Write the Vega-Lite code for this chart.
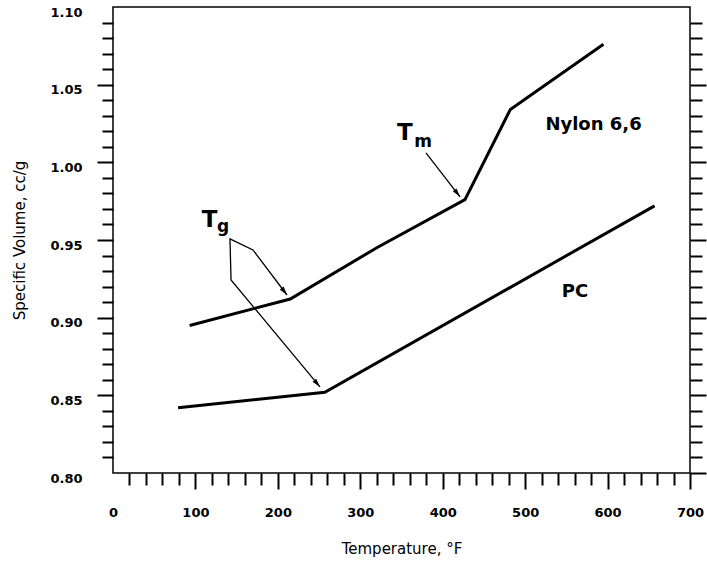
{
  "$schema": "https://vega.github.io/schema/vega-lite/v6.json",
  "width": 577,
  "height": 466,
  "autosize": {"type": "none"},
  "padding": {"left": 113, "top": 7, "right": 17, "bottom": 90},
  "config": {
    "font": "DejaVu Sans",
    "view": {"stroke": "#000000", "strokeWidth": 1.5},
    "axis": {"domain": false, "grid": false, "tickColor": "#000000", "labelColor": "#000000", "titleColor": "#000000"}
  },
  "datasets": {
    "curves": [
      {"series": "Nylon 6,6", "x": 93, "y": 0.895},
      {"series": "Nylon 6,6", "x": 215, "y": 0.912},
      {"series": "Nylon 6,6", "x": 320, "y": 0.945},
      {"series": "Nylon 6,6", "x": 427, "y": 0.976},
      {"series": "Nylon 6,6", "x": 482, "y": 1.034},
      {"series": "Nylon 6,6", "x": 595, "y": 1.076},
      {"series": "PC", "x": 79, "y": 0.842},
      {"series": "PC", "x": 257, "y": 0.852},
      {"series": "PC", "x": 657, "y": 0.972}
    ],
    "arrows": [
      {"id": "Tg", "ord": 1, "x": 211.1, "y": 0.9146},
      {"id": "Tg", "ord": 2, "x": 169.8, "y": 0.9436},
      {"id": "Tg", "ord": 3, "x": 141.9, "y": 0.9507},
      {"id": "Tg", "ord": 4, "x": 143.2, "y": 0.9243},
      {"id": "Tg", "ord": 5, "x": 251.1, "y": 0.8554},
      {"id": "Tm", "ord": 1, "x": 379.7, "y": 1.0061},
      {"id": "Tm", "ord": 2, "x": 421.0, "y": 0.9778}
    ],
    "tips": [
      {"name": "Tg1", "x": 211.1, "y": 0.9146},
      {"name": "Tg2", "x": 251.1, "y": 0.8554},
      {"name": "Tm", "x": 421.0, "y": 0.9778}
    ],
    "names": [
      {"text": "Nylon 6,6", "x": 583, "y": 1.024},
      {"text": "PC", "x": 560.5, "y": 0.9166}
    ],
    "bigT": [
      {"text": "T", "x": 354.2, "y": 1.0145},
      {"text": "T", "x": 117.1, "y": 0.9584}
    ],
    "subs": [
      {"text": "m", "x": 376.1, "y": 1.01},
      {"text": "g", "x": 133.4, "y": 0.9552}
    ]
  },
  "resolve": {"axis": {"y": "independent"}},
  "layer": [
    {
      "data": {"name": "curves"},
      "mark": {"type": "line", "color": "#000000", "strokeWidth": 3},
      "encoding": {
        "x": {
          "field": "x", "type": "quantitative",
          "scale": {"domain": [0, 700], "nice": false, "zero": false},
          "axis": {
            "orient": "bottom",
            "values": [0,20,40,60,80,100,120,140,160,180,200,220,240,260,280,300,320,340,360,380,400,420,440,460,480,500,520,540,560,580,600,620,640,660,680,700],
            "tickCount": 60,
            "labelExpr": "datum.value % 100 === 0 ? datum.label : ''",
            "tickSize": {"condition": {"test": "datum.value % 100 === 0", "value": 16}, "value": 12},
            "tickOpacity": {"condition": {"test": "datum.value === 0", "value": 0}, "value": 1},
            "tickWidth": 2,
            "labelFontSize": 13, "labelFontWeight": "bold", "labelPadding": 17,
            "labelFlush": false, "labelOverlap": false,
            "title": "Temperature, °F", "titleFontSize": 15, "titleFontWeight": "normal", "titlePadding": 22
          }
        },
        "y": {
          "field": "y", "type": "quantitative",
          "scale": {"domain": [0.8, 1.1], "nice": false, "zero": false},
          "axis": {
            "orient": "left",
            "values": [0.8,0.81,0.82,0.83,0.84,0.85,0.86,0.87,0.88,0.89,0.9,0.91,0.92,0.93,0.94,0.95,0.96,0.97,0.98,0.99,1.0,1.01,1.02,1.03,1.04,1.05,1.06,1.07,1.08,1.09,1.1],
            "labelExpr": "round(datum.value * 100) % 5 === 0 ? format(datum.value, '.2f') : ''",
            "tickSize": {"condition": {"test": "round(datum.value * 100) % 5 === 0", "value": 16}, "value": 11},
            "tickOpacity": {"condition": {"test": "datum.value < 0.805 || datum.value > 1.095", "value": 0}, "value": 1},
            "tickWidth": 2,
            "labelFontSize": 13, "labelFontWeight": "bold", "labelPadding": 15, "labelOffset": 5,
            "labelFlush": false, "labelOverlap": false,
            "title": "Specific Volume,  cc/g", "titleFontSize": 15, "titleFontWeight": "normal", "titlePadding": 22
          }
        },
        "detail": {"field": "series"}
      }
    },
    {
      "data": {"name": "arrows"},
      "mark": {"type": "line", "color": "#000000", "strokeWidth": 1.3},
      "encoding": {
        "x": {"field": "x", "type": "quantitative", "scale": {"domain": [0, 700], "nice": false, "zero": false}},
        "y": {
          "field": "y", "type": "quantitative",
          "scale": {"domain": [0.8, 1.1], "nice": false, "zero": false},
          "axis": {
            "orient": "right",
            "values": [0.8,0.81,0.82,0.83,0.84,0.85,0.86,0.87,0.88,0.89,0.9,0.91,0.92,0.93,0.94,0.95,0.96,0.97,0.98,0.99,1.0,1.01,1.02,1.03,1.04,1.05,1.06,1.07,1.08,1.09,1.1],
            "labels": false,
            "title": null,
            "tickSize": {"condition": {"test": "round(datum.value * 100) % 5 === 0", "value": 16}, "value": 12},
            "tickOpacity": {"condition": {"test": "datum.value > 1.095", "value": 0}, "value": 1},
            "tickWidth": 2
          }
        },
        "detail": {"field": "id"},
        "order": {"field": "ord"}
      }
    },
    {
      "data": {"name": "tips"},
      "transform": [{"filter": "datum.name === 'Tg1'"}],
      "mark": {"type": "point", "shape": "M0,0L0.6,2.2L-0.6,2.2Z", "size": 64, "filled": true, "color": "#000000", "opacity": 1, "angle": 143},
      "encoding": {
        "x": {"field": "x", "type": "quantitative", "scale": {"domain": [0, 700], "nice": false, "zero": false}},
        "y": {"field": "y", "type": "quantitative", "scale": {"domain": [0.8, 1.1], "nice": false, "zero": false}, "axis": null}
      }
    },
    {
      "data": {"name": "tips"},
      "transform": [{"filter": "datum.name === 'Tg2'"}],
      "mark": {"type": "point", "shape": "M0,0L0.6,2.2L-0.6,2.2Z", "size": 64, "filled": true, "color": "#000000", "opacity": 1, "angle": 140.3},
      "encoding": {
        "x": {"field": "x", "type": "quantitative", "scale": {"domain": [0, 700], "nice": false, "zero": false}},
        "y": {"field": "y", "type": "quantitative", "scale": {"domain": [0.8, 1.1], "nice": false, "zero": false}, "axis": null}
      }
    },
    {
      "data": {"name": "tips"},
      "transform": [{"filter": "datum.name === 'Tm'"}],
      "mark": {"type": "point", "shape": "M0,0L0.6,2.2L-0.6,2.2Z", "size": 64, "filled": true, "color": "#000000", "opacity": 1, "angle": 142.3},
      "encoding": {
        "x": {"field": "x", "type": "quantitative", "scale": {"domain": [0, 700], "nice": false, "zero": false}},
        "y": {"field": "y", "type": "quantitative", "scale": {"domain": [0.8, 1.1], "nice": false, "zero": false}, "axis": null}
      }
    },
    {
      "data": {"name": "names"},
      "mark": {"type": "text", "fontSize": 18, "fontWeight": "bold", "color": "#000000", "align": "center", "baseline": "middle"},
      "encoding": {
        "x": {"field": "x", "type": "quantitative", "scale": {"domain": [0, 700], "nice": false, "zero": false}},
        "y": {"field": "y", "type": "quantitative", "scale": {"domain": [0.8, 1.1], "nice": false, "zero": false}, "axis": null},
        "text": {"field": "text"}
      }
    },
    {
      "data": {"name": "bigT"},
      "mark": {"type": "text", "fontSize": 23, "fontWeight": "bold", "color": "#000000", "align": "center", "baseline": "alphabetic"},
      "encoding": {
        "x": {"field": "x", "type": "quantitative", "scale": {"domain": [0, 700], "nice": false, "zero": false}},
        "y": {"field": "y", "type": "quantitative", "scale": {"domain": [0.8, 1.1], "nice": false, "zero": false}, "axis": null},
        "text": {"field": "text"}
      }
    },
    {
      "data": {"name": "subs"},
      "mark": {"type": "text", "fontSize": 17, "fontWeight": "bold", "color": "#000000", "align": "center", "baseline": "alphabetic"},
      "encoding": {
        "x": {"field": "x", "type": "quantitative", "scale": {"domain": [0, 700], "nice": false, "zero": false}},
        "y": {"field": "y", "type": "quantitative", "scale": {"domain": [0.8, 1.1], "nice": false, "zero": false}, "axis": null},
        "text": {"field": "text"}
      }
    }
  ]
}
